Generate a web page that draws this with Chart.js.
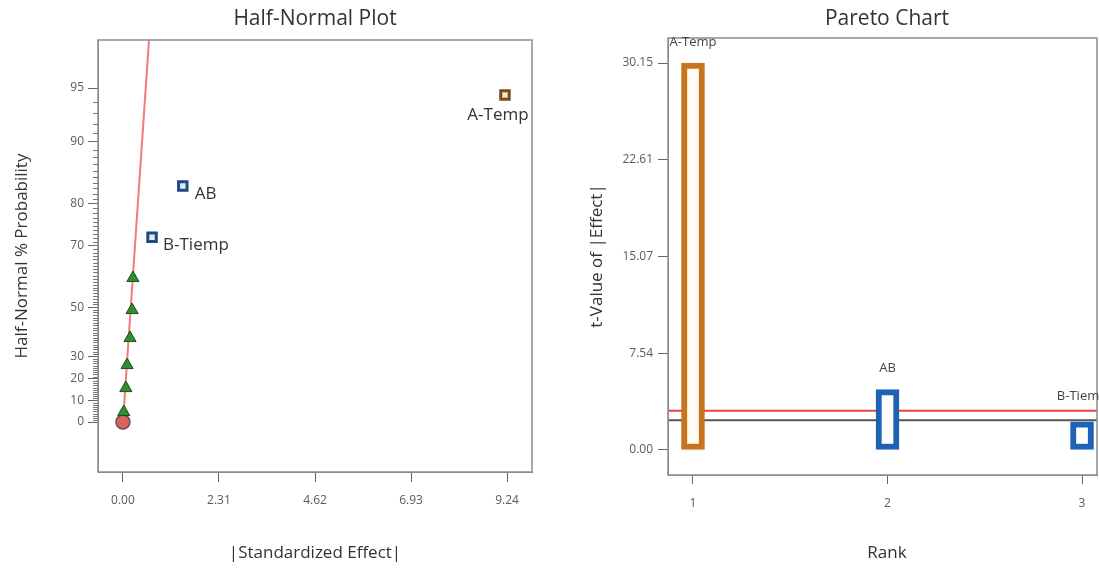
<!DOCTYPE html>
<html>
<head>
<meta charset="utf-8">
<script src="https://cdn.jsdelivr.net/npm/chart.js@4/dist/chart.umd.min.js"></script>
<style>
  html, body { margin: 0; padding: 0; background: #fff; }
  #wrap { position: relative; width: 1099px; height: 572px; overflow: hidden; }
  canvas { position: absolute; top: 0; }
  #halfNormal { left: 0; }
  #pareto { left: 560px; }
</style>
</head>
<body>
<div id="wrap">
  <canvas id="halfNormal" width="560" height="572"></canvas>
  <canvas id="pareto" width="539" height="572"></canvas>
</div>
<script>
// --- half-normal plot data ---
const effectNames = ['A-Temp', 'AB', 'B-Tiemp'];
const effectSize = [9.19, 1.44, 0.70];        // |standardized effect|
const effectProb = [94.5, 83.4, 72.2];        // half-normal % probability
const errorSize = [0.02, 0.07, 0.10, 0.17, 0.22, 0.24];
const errorProb = [4.7, 15.8, 26.2, 37.8, 48.9, 60.2];
const zeroSize = [0];
const zeroProb = [0];
const fitSize = [0, 0.72];
const fitProb = [0, 99];
const probTicks = [0, 10, 20, 30, 50, 70, 80, 90, 95];
const effectTicks = [0, 2.31, 4.62, 6.93, 9.24];

// --- pareto chart data ---
const ranks = [1, 2, 3];
const tValues = [30.15, 4.7, 2.2];
const tTicks = [0, 7.54, 15.07, 22.61, 30.15];
const tLimit = 2.31;
const bonferroniLimit = 3.05;

const FONT = '"Open Sans", "Noto Sans", sans-serif';
const orange = '#c8741c';
const blue = '#1f62b5';
const tickFont = { size: 12, family: FONT };

// inverse normal cdf (Acklam)
function invNorm(p) {
  const a = [-39.69683028665376, 220.9460984245205, -275.9285104469687, 138.3577518672690, -30.66479806614716, 2.506628277459239];
  const b = [-54.47609879822406, 161.5858368580409, -155.6989798598866, 66.80131188771972, -13.28068155288572];
  const c = [-0.007784894002430293, -0.3223964580411365, -2.400758277161838, -2.549732539343734, 4.374664141464968, 2.938163982698783];
  const d = [0.007784695709041462, 0.3224671290700398, 2.445134137142996, 3.754408661907416];
  const pl = 0.02425;
  let q, r;
  if (p < pl) {
    q = Math.sqrt(-2 * Math.log(p));
    return (((((c[0]*q+c[1])*q+c[2])*q+c[3])*q+c[4])*q+c[5]) / ((((d[0]*q+d[1])*q+d[2])*q+d[3])*q+1);
  }
  if (p <= 1 - pl) {
    q = p - 0.5; r = q * q;
    return (((((a[0]*r+a[1])*r+a[2])*r+a[3])*r+a[4])*r+a[5])*q / (((((b[0]*r+b[1])*r+b[2])*r+b[3])*r+b[4])*r+1);
  }
  q = Math.sqrt(-2 * Math.log(1 - p));
  return -(((((c[0]*q+c[1])*q+c[2])*q+c[3])*q+c[4])*q+c[5]) / ((((d[0]*q+d[1])*q+d[2])*q+d[3])*q+1);
}
// half-normal probability (%) -> z position
const hn = p => p === 0 ? 0 : invNorm(0.5 + p / 200);
const pts = (xs, ps) => xs.map((x, i) => ({ x: x, y: hn(ps[i]) }));

// frame + texts drawn on top
function framePlugin(cfg) {
  return {
    id: 'frame',
    afterDraw(chart) {
      const ctx = chart.ctx, a = chart.chartArea;
      ctx.save();
      ctx.strokeStyle = '#8c8c8c';
      ctx.lineWidth = 1.5;
      ctx.strokeRect(a.left, a.top, a.right - a.left, a.bottom - a.top);
      ctx.fillStyle = '#333';
      ctx.textAlign = 'center';
      ctx.textBaseline = 'middle';
      ctx.font = '21px ' + FONT;
      ctx.fillText(cfg.title, cfg.cx, 19);
      ctx.font = '17px ' + FONT;
      ctx.fillText(cfg.xTitle, cfg.cx, 553);
      ctx.translate(cfg.yx, 256);
      ctx.rotate(-Math.PI / 2);
      ctx.fillText(cfg.yTitle, 0, 0);
      ctx.restore();
      if (cfg.extra) cfg.extra(chart);
    }
  };
}

// ---------- Half-Normal Plot ----------
const labelOffsets = [[-7, 20, 'center'], [12, 8, 'left'], [11, 8, 'left']];
new Chart(document.getElementById('halfNormal'), {
  type: 'scatter',
  data: {
    datasets: [
      {
        data: pts(effectSize, effectProb),
        pointStyle: 'rect',
        pointRadius: 6,
        borderWidth: 3,
        pointBorderColor: ctx => ctx.dataIndex === 0 ? '#7a4a1c' : '#1d4a86',
        pointBackgroundColor: ctx => ctx.dataIndex === 0 ? '#f4e6cc' : '#dfeaf6',
        order: 0
      },
      {
        data: pts(errorSize, errorProb),
        pointStyle: 'triangle',
        pointRadius: 7,
        borderWidth: 1,
        pointBorderColor: '#1d4d1d',
        pointBackgroundColor: '#2f8f2f',
        order: 0
      },
      {
        data: pts(zeroSize, zeroProb),
        pointStyle: 'circle',
        pointRadius: 7,
        borderWidth: 1.5,
        pointBorderColor: '#6b4a5a',
        pointBackgroundColor: '#d9625a',
        order: 0
      },
      {
        data: pts(fitSize, fitProb),
        showLine: true,
        pointRadius: 0,
        borderColor: '#f27c7c',
        borderWidth: 2,
        order: 1
      }
    ]
  },
  options: {
    responsive: false,
    animation: false,
    layout: { padding: { top: 40, right: 28, left: 0, bottom: 0 } },
    plugins: { legend: { display: false }, tooltip: { enabled: false } },
    scales: {
      x: {
        type: 'linear',
        min: -0.60, max: 9.84,
        afterFit: s => { s.height = 100; },
        afterBuildTicks: s => { s.ticks = effectTicks.map(v => ({ value: v })); },
        grid: { drawOnChartArea: false, tickLength: 10, color: '#666' },
        border: { color: '#8c8c8c' },
        ticks: { color: '#5a5a5a', font: tickFont, padding: 11,
                 callback: v => v.toFixed(2) }
      },
      y: {
        type: 'linear',
        min: -0.293, max: 2.242,
        afterFit: s => { s.width = 98; },
        afterBuildTicks: s => { s.ticks = probTicks.map(p => ({ value: hn(p) })); },
        grid: { drawOnChartArea: false, tickLength: 10, color: '#666' },
        border: { color: '#8c8c8c' },
        ticks: { color: '#5a5a5a', font: tickFont, padding: 4,
                 callback: (v, i) => String(probTicks[i]) }
      }
    }
  },
  plugins: [framePlugin({
    title: 'Half-Normal Plot', xTitle: '|Standardized Effect|', yTitle: 'Half-Normal % Probability',
    cx: 315, yx: 22,
    extra(chart) {
      const ctx = chart.ctx, ys = chart.scales.y, a = chart.chartArea;
      ctx.save();
      // minor ticks on probability axis
      ctx.strokeStyle = '#777';
      ctx.lineWidth = 1;
      for (let p = 1; p < 95; p++) {
        if (probTicks.includes(p)) continue;
        const y = Math.round(ys.getPixelForValue(hn(p))) + 0.5;
        ctx.beginPath();
        ctx.moveTo(a.left - 5, y);
        ctx.lineTo(a.left, y);
        ctx.stroke();
      }
      // effect labels
      ctx.fillStyle = '#333';
      ctx.font = '17px ' + FONT;
      ctx.textBaseline = 'middle';
      chart.getDatasetMeta(0).data.forEach((el, i) => {
        const o = labelOffsets[i];
        ctx.textAlign = o[2];
        ctx.fillText(effectNames[i], el.x + o[0], el.y + o[1]);
      });
      ctx.restore();
    }
  })]
});

// ---------- Pareto Chart ----------
const lineAcross = v => [{ x: 0.8, y: v }, { x: 3.2, y: v }];
new Chart(document.getElementById('pareto'), {
  type: 'bar',
  data: {
    datasets: [
      {
        data: ranks.map((r, i) => ({ x: r, y: tValues[i] })),
        backgroundColor: ctx => ctx.dataIndex === 0 ? '#fffaf2' : '#ffffff',
        borderColor: ctx => ctx.dataIndex === 0 ? orange : blue,
        borderWidth: 6,
        borderSkipped: false,
        barThickness: 23,
        order: 0
      },
      {
        type: 'line',
        data: lineAcross(bonferroniLimit),
        borderColor: '#ee4040',
        borderWidth: 2,
        pointRadius: 0,
        order: 1
      },
      {
        type: 'line',
        data: lineAcross(tLimit),
        borderColor: '#555',
        borderWidth: 2,
        pointRadius: 0,
        order: 1
      }
    ]
  },
  options: {
    responsive: false,
    animation: false,
    layout: { padding: { top: 38, right: 2, left: 0, bottom: 0 } },
    plugins: { legend: { display: false }, tooltip: { enabled: false } },
    scales: {
      x: {
        type: 'linear',
        offset: false,
        min: 0.8715, max: 3.077,
        afterFit: s => { s.height = 97; },
        afterBuildTicks: s => { s.ticks = ranks.map(v => ({ value: v })); },
        grid: { drawOnChartArea: false, offset: false, tickLength: 9, color: '#666' },
        border: { color: '#8c8c8c' },
        ticks: { color: '#5a5a5a', font: tickFont, padding: 12 }
      },
      y: {
        type: 'linear',
        min: -1.95, max: 32.1,
        afterFit: s => { s.width = 108; },
        afterBuildTicks: s => { s.ticks = tTicks.map(v => ({ value: v })); },
        grid: { drawOnChartArea: false, tickLength: 10, color: '#666' },
        border: { color: '#8c8c8c' },
        ticks: { color: '#5a5a5a', font: tickFont, padding: 5,
                 callback: v => v.toFixed(2) }
      }
    }
  },
  plugins: [framePlugin({
    title: 'Pareto Chart', xTitle: 'Rank', yTitle: 't-Value of |Effect|',
    cx: 327, yx: 37,
    extra(chart) {
      const ctx = chart.ctx;
      ctx.save();
      ctx.fillStyle = '#444';
      ctx.font = '13px ' + FONT;
      ctx.textAlign = 'center';
      ctx.textBaseline = 'middle';
      chart.getDatasetMeta(0).data.forEach((el, i) => {
        ctx.fillText(effectNames[i], el.x, el.y - (i === 2 ? 25 : 21));
      });
      ctx.restore();
    }
  })]
});
</script>
</body>
</html>
